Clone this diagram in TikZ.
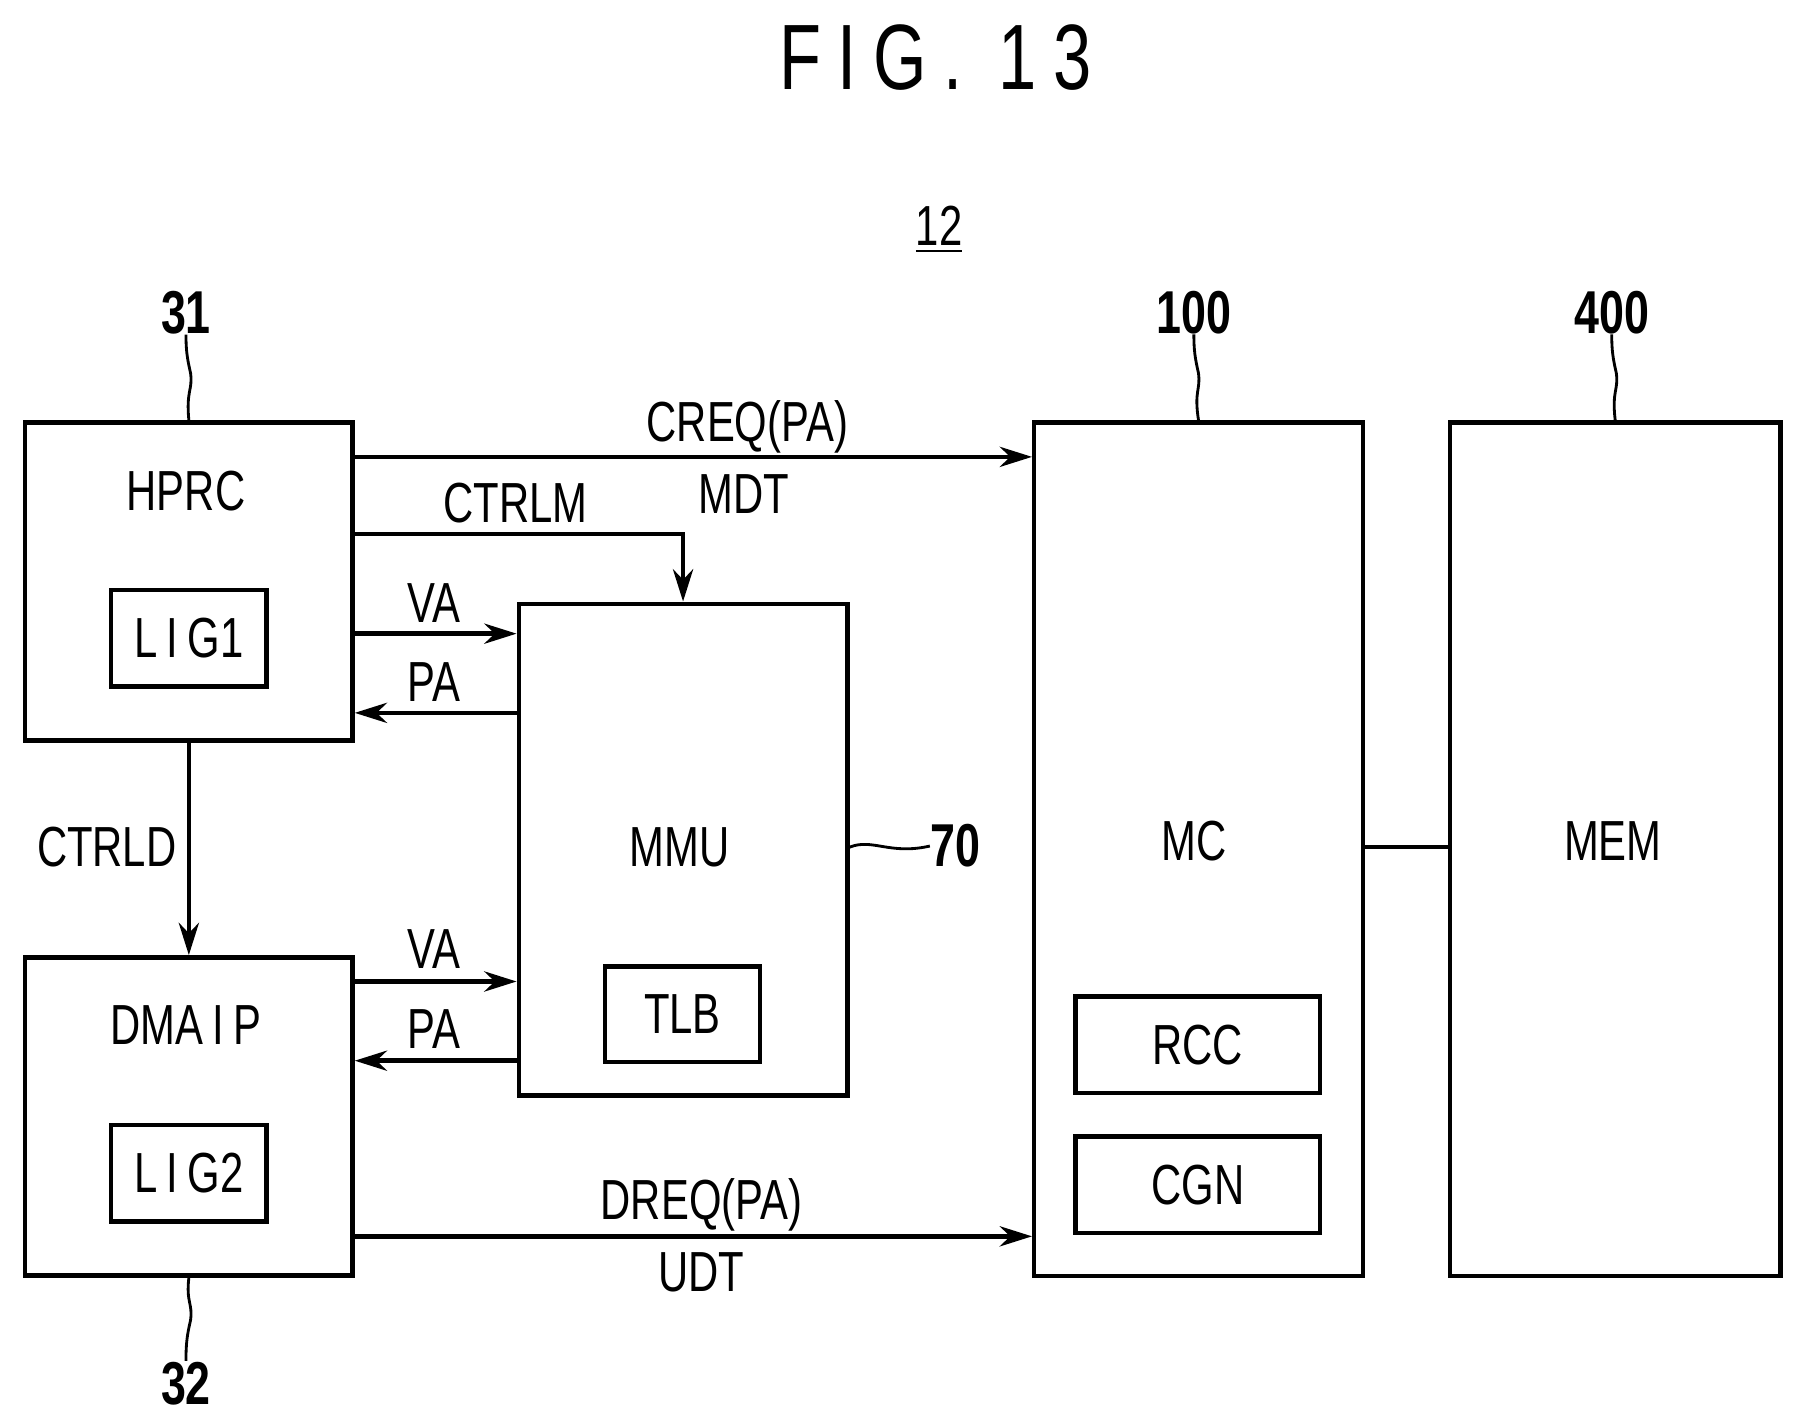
\documentclass[tikz,border=0pt]{standalone}
\usepackage{fontspec}
\setmainfont{Liberation Sans}[FakeStretch=0.74]
\usetikzlibrary{arrows.meta}
\tikzstyle{block} = [rectangle, draw=black, line width=1.1pt, inner sep=0pt, anchor=north west]
\tikzstyle{lbl} = [font=\fontsize{14}{16}\selectfont, inner sep=0pt]
\tikzstyle{num} = [font=\fontsize{15}{17}\selectfont\bfseries, inner sep=0pt]
\tikzstyle{arrow} = [line width=1.1pt, -{Stealth[length=8pt,width=5pt]}]
\tikzstyle{wire} = [line width=1.1pt]
\tikzstyle{lead} = [line width=0.7pt]
\begin{document}
\begin{tikzpicture}[x=0.01cm, y=-0.01cm]
\useasboundingbox (0,0) rectangle (1568,1240);
\node (title) [font=\fontsize{23}{26}\selectfont\addfontfeature{LetterSpace=18}] at (815,50) {FIG. 13};
\node (sys) [lbl] at (818,200) {\underline{12}};

% blocks
\node (hprc) [block, minimum width=2.85cm, minimum height=2.77cm] at (20,366) {};
\node (lig1) [block, minimum width=1.35cm, minimum height=0.84cm] at (95,512) {};
\node (dmaip) [block, minimum width=2.85cm, minimum height=2.77cm] at (20,832) {};
\node (lig2) [block, minimum width=1.35cm, minimum height=0.84cm] at (95,978) {};
\node (mmu) [block, minimum width=2.86cm, minimum height=4.28cm] at (450,524) {};
\node (tlb) [block, minimum width=1.35cm, minimum height=0.83cm] at (525,840) {};
\node (mc) [block, minimum width=2.86cm, minimum height=7.43cm] at (899,366) {};
\node (rcc) [block, minimum width=2.13cm, minimum height=0.84cm] at (935,866) {};
\node (cgn) [block, minimum width=2.13cm, minimum height=0.84cm] at (935,988) {};
\node (mem) [block, minimum width=2.88cm, minimum height=7.43cm] at (1261,366) {};

\node [lbl] at (162,428) {HPRC};
\node [lbl] at (lig1.center) {L\,I\,G1};
\node [lbl] at (162,893) {DMA\,I\,P};
\node [lbl] at (lig2.center) {L\,I\,G2};
\node [lbl] at (592,738) {MMU};
\node [lbl] at (tlb.center) {TLB};
\node [lbl] at (1040,733) {MC};
\node [lbl] at (rcc.center) {RCC};
\node [lbl] at (cgn.center) {CGN};
\node [lbl] at (1405,733) {MEM};

% connectors
\draw [arrow] (hprc.north east |- 0,398) -- (mc.north west |- 0,398);
\node [lbl] at (651,372) {CREQ(PA)};
\node [lbl] at (648,430) {MDT};
\draw [arrow] (hprc.north east |- 0,465) -| (mmu.north);
\node [lbl] at (449,438) {CTRLM};
\draw [arrow] (hprc.north east |- 0,552) -- (mmu.north west |- 0,552);
\node [lbl] at (378,525) {VA};
\draw [arrow] (mmu.north west |- 0,621) -- (hprc.north east |- 0,621);
\node [lbl] at (378,594) {PA};
\draw [arrow] (hprc.south) -- (dmaip.north);
\node [lbl] at (93,738) {CTRLD};
\draw [arrow] (dmaip.north east |- 0,855) -- (mmu.north west |- 0,855);
\node [lbl] at (378,827) {VA};
\draw [arrow] (mmu.north west |- 0,924) -- (dmaip.north east |- 0,924);
\node [lbl] at (378,896) {PA};
\draw [arrow] (dmaip.north east |- 0,1077) -- (mc.north west |- 0,1077);
\node [lbl] at (611,1050) {DREQ(PA)};
\node [lbl] at (611,1108) {UDT};
\draw [wire] (mc.east |- 0,738) -- (mem.west |- 0,738);

% reference numerals
\node (n31) [num] at (162,272) {31};
\node (n100) [num] at (1040,272) {100};
\node (n400) [num] at (1404,272) {400};
\node (n32) [num] at (162,1205) {32};
\node (n70) [num, anchor=west] at (810,737) {70};
\draw [lead] (hprc.north) .. controls (162,340) and (168,340) .. (166,325) .. controls (163,312) and (162,305) .. (n31.south);
\draw [lead] (mc.north) .. controls (1040,340) and (1046,340) .. (1044,325) .. controls (1041,312) and (1040,305) .. (n100.south);
\draw [lead] (mem.north) .. controls (1404,340) and (1410,340) .. (1408,325) .. controls (1405,312) and (1404,305) .. (n400.south);
\draw [lead] (dmaip.south) .. controls (162,1135) and (168,1135) .. (166,1150) .. controls (163,1163) and (162,1170) .. (n32.north);
\draw [lead] (mmu.east |- 0,738) .. controls (760,730) and (775,745) .. (n70.west);
\end{tikzpicture}
\end{document}
